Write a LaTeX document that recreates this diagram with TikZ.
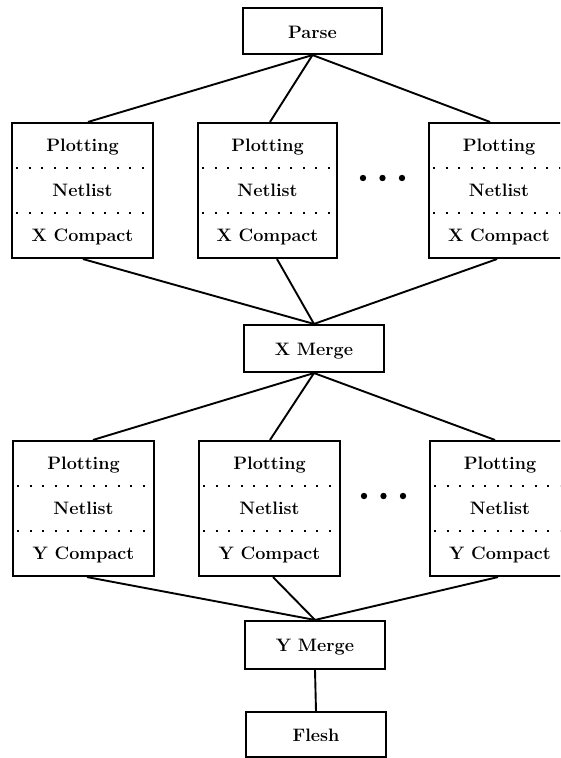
\documentclass[tikz,border=0pt]{standalone}
\usetikzlibrary{calc}
\tikzset{
  box/.style={draw, line width=2.1pt, inner sep=0pt, fill=none},
  lbl/.style={font=\fontsize{18}{21}\selectfont\bfseries, anchor=base, inner sep=0pt},
  dotline/.style={line width=2.4pt, dash pattern=on 2pt off 10.6pt, dash phase=-4pt},
  conn/.style={line width=1.9pt},
}
\newcommand\stackbox[5]{%
  \node[box, minimum width=#4pt, minimum height=135pt] (#1) at (#2,#3) {};
  \node[lbl] (#1p) at ($(#1.center)+(0,-39)$) {Plotting};
  \node[lbl] (#1n) at ($(#1.center)+(0,6)$) {Netlist};
  \node[lbl] (#1c) at ($(#1.center)+(0,51)$) {#5 Compact};
  \draw[dotline] ($(#1.west)+(1,-22.5)$) -- ($(#1.east)+(0,-22.5)$);
  \draw[dotline] ($(#1.west)+(1,22.5)$) -- ($(#1.east)+(0,22.5)$);
}
\begin{document}
\begin{tikzpicture}[x=1pt,y=-1pt]
\clip (0,0) rectangle (560,758);
\fill[white] (0,0) rectangle (560,758);

% top
\node[box, minimum width=139pt, minimum height=46pt] (P) at (312.5,31) {};
\node[lbl] (Pt) at ($(P.center)+(0,7)$) {Parse};

% row 1
\stackbox{a1}{82.5}{190.5}{141}{X}
\stackbox{a2}{267.5}{190.5}{139}{X}
\stackbox{a3}{499}{190.5}{140}{X}
\foreach \x in {363,382.5,402} \fill (\x,178) circle (3.2pt);

% X merge
\node[box, minimum width=140pt, minimum height=47pt] (XM) at (314,348.5) {};
\node[lbl] (XMt) at ($(XM.center)+(0,6.5)$) {X Merge};

% row 2
\stackbox{b1}{83.5}{508.5}{141}{Y}
\stackbox{b2}{269.5}{508.5}{141}{Y}
\stackbox{b3}{500}{508.5}{140}{Y}
\foreach \x in {364,383.5,403} \fill (\x,496) circle (3.2pt);

% Y merge
\node[box, minimum width=140pt, minimum height=48pt] (YM) at (315,645) {};
\node[lbl] (YMt) at ($(YM.center)+(0,6.5)$) {Y Merge};

% Flesh
\node[box, minimum width=140pt, minimum height=45pt] (F) at (316,734.5) {};
\node[lbl] (Ft) at ($(F.center)+(0,7)$) {Flesh};

% connectors
\draw[conn] (P.south) -- ([xshift=5.5pt]a1.north);
\draw[conn] (P.south) -- ([xshift=2.5pt]a2.north);
\draw[conn] (P.south) -- ([xshift=-9pt]a3.north);
\draw[conn] ([xshift=0.5pt]a1.south) -- (XM.north);
\draw[conn] ([xshift=9.5pt]a2.south) -- (XM.north);
\draw[conn] ([xshift=-2pt]a3.south) -- (XM.north);
\draw[conn] (XM.south) -- ([xshift=9.5pt]b1.north);
\draw[conn] (XM.south) -- ([xshift=0.5pt]b2.north);
\draw[conn] (XM.south) -- ([xshift=-5pt]b3.north);
\draw[conn] ([xshift=3.5pt]b1.south) -- (YM.north);
\draw[conn] ([xshift=3.5pt]b2.south) -- (YM.north);
\draw[conn] ([xshift=-2pt]b3.south) -- (YM.north);
\draw[conn] (YM.south) -- (F.north);
\end{tikzpicture}
\end{document}
